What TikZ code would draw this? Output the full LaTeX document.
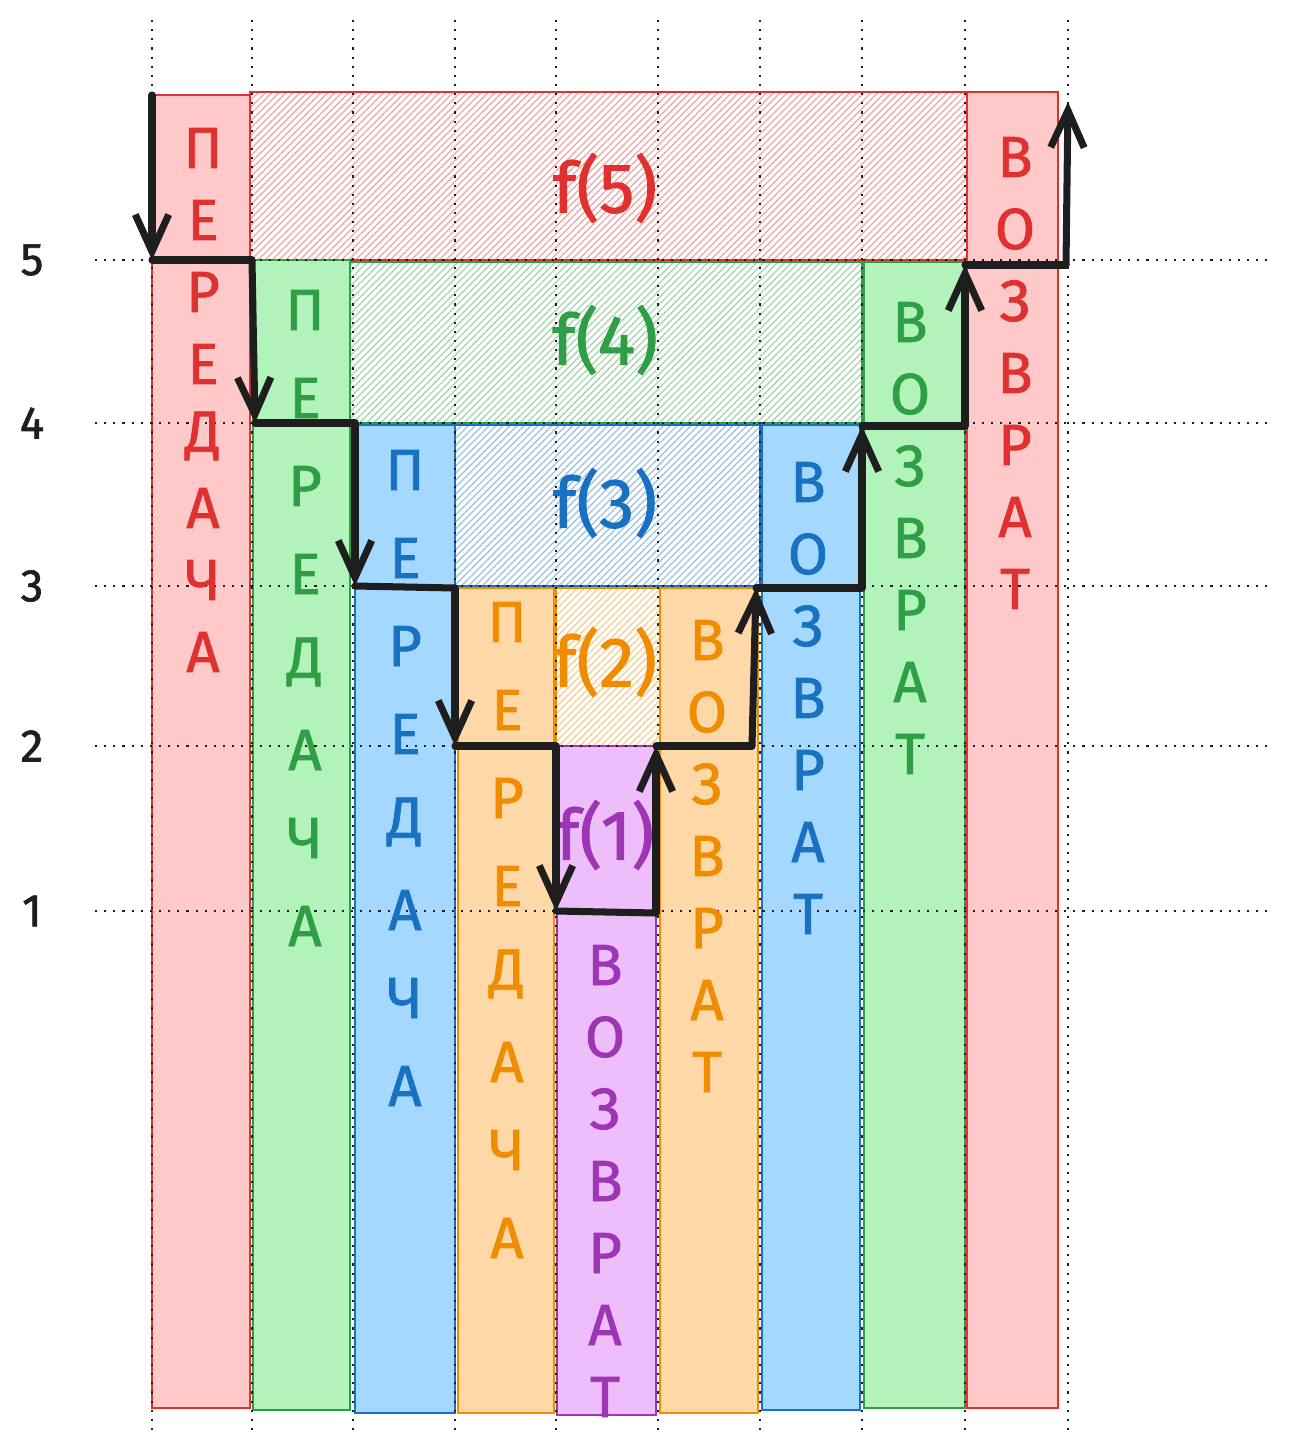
\documentclass[tikz,border=0pt]{standalone}
\usepackage{fontspec}
\setmainfont{Fira Sans}
\newfontfamily\handfont{Fira Sans}[FakeBold=1.3]
\usetikzlibrary{arrows.meta}
\usetikzlibrary{patterns.meta}

\definecolor{redline}{HTML}{E03131}
\definecolor{redfill}{HTML}{FFC9C9}
\definecolor{greenline}{HTML}{2F9E44}
\definecolor{greenfill}{HTML}{B2F2BB}
\definecolor{blueline}{HTML}{1971C2}
\definecolor{bluefill}{HTML}{A5D8FF}
\definecolor{orangeline}{HTML}{F08C00}
\definecolor{orangefill}{HTML}{FFD8A8}
\definecolor{violetline}{HTML}{9C36B5}
\definecolor{violetfill}{HTML}{EEBEFA}
\definecolor{ink}{HTML}{1E1E1E}

\tikzset{
  strip/.style={draw=#1line, line width=0.4pt, fill=#1fill},
  hatched/.style={draw=#1line, line width=0.4pt,
    pattern={Lines[angle=45,distance=1.4pt,line width=0.35pt]}, pattern color=#1line!45},
  letter/.style={text=#1line, font=\handfont\fontsize{16.5}{16}\selectfont, inner sep=0pt},
  call/.style={text=#1line, font=\handfont\fontsize{20}{20}\selectfont, inner sep=0pt},
  depthlab/.style={text=ink, font=\handfont\fontsize{13}{13}\selectfont, inner sep=0pt},
  gridline/.style={ink, dotted, line width=0.6pt},
  walk/.style={ink, line width=2pt, line cap=round, line join=round},
  arrowed/.style={walk, -{Straight Barb[length=10.5pt,width=9.5pt,line width=2pt]}}
}

\begin{document}
\begin{tikzpicture}[x=0.01cm, y=-0.01cm]
  \useasboundingbox (0,0) rectangle (1289,1451);

  % frames of the calls
  \path[hatched=red] (250,92) rectangle (967,260);
  \path[hatched=green] (350,262) rectangle (862,423);
  \path[hatched=blue] (455,425) rectangle (760,586);
  \path[hatched=orange] (556,588) rectangle (660,746);

  \path[strip=red] (152,95) rectangle (250,1408);
  \path[strip=green] (253,260) rectangle (350,1410);
  \path[strip=blue] (355,425) rectangle (455,1413);
  \path[strip=orange] (458,588) rectangle (554,1413);
  \path[strip=violet] (557,746) rectangle (656,1415);
  \path[strip=orange] (660,588) rectangle (758,1413);
  \path[strip=blue] (762,425) rectangle (860,1410);
  \path[strip=green] (864,262) rectangle (965,1408);
  \path[strip=red] (967,92) rectangle (1058,1408);

  % grid
  \foreach \x in {152,252,353,455,556,658,760,862,965,1068}
    \draw[gridline] (\x,20) -- (\x,1430);
  \foreach \y/\n in {260/5,423/4,586/3,746/2,911/1} {
    \draw[gridline] (95,\y) -- (1268,\y);
    \node[depthlab] (lvl\n) at (32,\y) {\n};
  }

  % labels
  \node[call=red] (f5) at (605,188) {f(5)};
  \node[call=green] (f4) at (605,340) {f(4)};
  \node[call=blue] (f3) at (605,503) {f(3)};
  \node[call=orange] (f2) at (605,662) {f(2)};
  \node[call=violet] (f1) at (605,835) {f(1)};

  \foreach \ch [count=\i] in {П,Е,Р,Е,Д,А,Ч,А} {
    \node[letter=red] (rp\i) at (203,76+72*\i) {\ch};
    \node[letter=green] (gp\i) at (305,222+88*\i) {\ch};
    \node[letter=blue] (bp\i) at (405,382+88*\i) {\ch};
    \node[letter=orange] (op\i) at (507,534+88*\i) {\ch};
  }
  \foreach \ch [count=\i] in {В,О,З,В,Р,А,Т} {
    \node[letter=violet] (vv\i) at (605,893+72*\i) {\ch};
    \node[letter=orange] (ov\i) at (707,568+72*\i) {\ch};
    \node[letter=blue] (bv\i) at (808,410+72*\i) {\ch};
    \node[letter=green] (gv\i) at (910,250+72*\i) {\ch};
    \node[letter=red] (rv\i) at (1015,85+72*\i) {\ch};
  }

  % the walk down and back
  \foreach \x/\y [count=\i] in {152/95,152/260,252/260,255/423,355/423,355/586,
      455/588,455/746,556/746,556/911,656/913,656/746,752/746,756/588,862/588,
      862/426,965/426,965/265,1066/265,1068/102}
    \coordinate (w\i) at (\x,\y);
  \foreach \i [evaluate=\i as \j using int(\i+1)] in {1,3,...,19}
    \draw[arrowed] (w\i) -- (w\j);
  \foreach \i [evaluate=\i as \j using int(\i+1)] in {2,4,...,18}
    \draw[walk] (w\i) -- (w\j);
\end{tikzpicture}
\end{document}
